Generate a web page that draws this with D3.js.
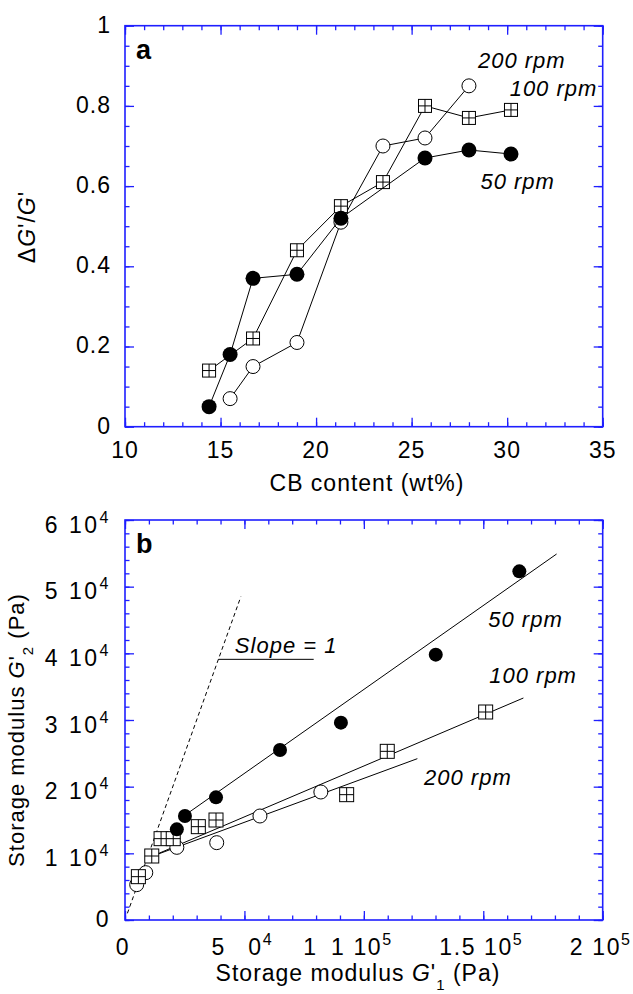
<!DOCTYPE html>
<html lang="en">
<head>
<meta charset="utf-8">
<title>CB content / storage modulus</title>
<script src="https://cdn.jsdelivr.net/npm/d3@7"></script>
<style>
  body { margin: 0; background: #fff; }
  svg { font-family: "Liberation Sans", Arial, sans-serif; }
</style>
</head>
<body>
<div id="chart"></div>
<script>
// ---- panel a : CB content (wt%) vs dG'/G'
var cb50  = [14.4, 15.5, 16.7, 19.0, 21.3, 25.7, 28.0, 30.2];
var dg50  = [0.05, 0.18, 0.37, 0.38, 0.52, 0.67, 0.69, 0.68];
var cb100 = [14.4, 16.7, 19.0, 21.3, 23.5, 25.7, 28.0, 30.2];
var dg100 = [0.14, 0.22, 0.44, 0.55, 0.61, 0.80, 0.77, 0.79];
var cb200 = [15.5, 16.7, 19.0, 21.3, 23.5, 25.7, 28.0];
var dg200 = [0.07, 0.15, 0.21, 0.51, 0.70, 0.72, 0.85];

// ---- panel b : G'1 vs G'2 (Pa)
var g1_50  = [21700, 25100, 38100, 64900, 90400, 130100, 165100];
var g2_50  = [13600, 15600, 18400, 25500, 29600, 39800, 52300];
var g1_100 = [5600, 11200, 15100, 20200, 30700, 38100, 92800, 109800, 151000];
var g2_100 = [6500, 9600, 12200, 12200, 14000, 15000, 18800, 25300, 31200];
var g1_200 = [4900, 8700, 21700, 38400, 56500, 82000];
var g2_200 = [5300, 7100, 10900, 11600, 15600, 19200];

// fitted lines (end points)
var fit50x  = [25000, 180700], fit50y  = [15700, 54900];
var fit100x = [10900, 166800], fit100y = [9500, 33300];
var fit200x = [10900, 122400], fit200y = [9500, 24200];
var slopeOne = [1000, 48500];

// tick values and labels
var xTicksA = [10, 15, 20, 25, 30, 35];
var yTicksA = [0, 0.2, 0.4, 0.6, 0.8, 1];
var yLabA   = ["0", "0.2", "0.4", "0.6", "0.8", "1"];
var xTicksB = [0, 50000, 100000, 150000, 200000];
var xLabB   = [["", "0", ""], ["", "5 \u20070", "4"], ["1", "1 10", "5"], ["", "1.5 10", "5"], ["", "2 10", "5"]];
var yTicksB = [0, 10000, 20000, 30000, 40000, 50000, 60000];
var yLabB   = [["0", ""], ["1 10", "4"], ["2 10", "4"], ["3 10", "4"], ["4 10", "4"], ["5 10", "4"], ["6 10", "4"]];

var blue = "#1f1fff";
var W = 633, H = 994;
var svg = d3.select("#chart").append("svg").attr("width", W).attr("height", H);

var xa = d3.scaleLinear().domain([10, 35]).range([125, 602.7]);
var ya = d3.scaleLinear().domain([0, 1]).range([426.7, 25.7]);
var xb = d3.scaleLinear().domain([0, 200000]).range([125, 602.7]);
var yb = d3.scaleLinear().domain([0, 60000]).range([920, 520]);

function frame(x, y, xMaj, xMin, yMaj, yMin) {
  var g = svg.append("g");
  var r = x.range(), h = y.range();
  var sides = [
    [d3.axisBottom, x, h[0], xMaj, xMin, "y"],
    [d3.axisTop, x, h[1], xMaj, xMin, "y"],
    [d3.axisLeft, y, r[0], yMaj, yMin, "x"],
    [d3.axisRight, y, r[1], yMaj, yMin, "x"]
  ];
  sides.forEach(function(s) {
    [[s[4], -4.5], [s[3], -9]].forEach(function(t) {
      var ax = s[0](s[1]).tickValues(t[0]).tickSize(t[1]).tickFormat("");
      var tr = s[5] == "y" ? "translate(0," + s[2] + ")" : "translate(" + s[2] + ",0)";
      var a = g.append("g").attr("transform", tr).call(ax);
      a.select(".domain").remove();
      a.selectAll("line").attr("stroke", blue).attr("stroke-width", 1.3);
    });
  });
  g.append("rect")
    .attr("x", r[0]).attr("y", h[1])
    .attr("width", r[1] - r[0]).attr("height", h[0] - h[1])
    .attr("fill", "none").attr("stroke", blue).attr("stroke-width", 1.6);
}

function range(a, b, st) { return d3.range(0, Math.round((b - a) / st) + 1).map(function(i) { return a + i * st; }); }

frame(xa, ya, xTicksA, range(10, 35, 1), yTicksA, range(0, 1, 0.05));
frame(xb, yb, xTicksB, range(0, 200000, 10000), yTicksB, range(0, 60000, 2000));

// ---- markers
function marker(g, type, cx, cy, s) {
  if (type == "fill") {
    g.append("circle").attr("cx", cx).attr("cy", cy).attr("r", s).attr("fill", "#000");
  } else if (type == "open") {
    g.append("circle").attr("cx", cx).attr("cy", cy).attr("r", s)
      .attr("fill", "#fff").attr("stroke", "#000").attr("stroke-width", 1);
  } else {
    g.append("rect").attr("x", cx - s).attr("y", cy - s).attr("width", 2 * s).attr("height", 2 * s)
      .attr("fill", "#fff").attr("stroke", "#000").attr("stroke-width", 1);
    g.append("path").attr("d", "M" + cx + "," + (cy - s) + "V" + (cy + s) + "M" + (cx - s) + "," + cy + "H" + (cx + s))
      .attr("stroke", "#000").attr("stroke-width", 1);
  }
}

function series(x, y, xs, ys, type, s, joined) {
  var g = svg.append("g");
  var pts = xs.map(function(v, i) { return [x(v), y(ys[i])]; });
  if (joined) {
    g.append("path").attr("d", d3.line()(pts)).attr("fill", "none").attr("stroke", "#000").attr("stroke-width", 1);
  }
  pts.forEach(function(p) { marker(g, type, p[0], p[1], s); });
}

function seg(x, y, xs, ys, dash) {
  svg.append("path")
    .attr("d", d3.line()(xs.map(function(v, i) { return [x(v), y(ys[i])]; })))
    .attr("stroke", "#000").attr("stroke-width", 1).attr("fill", "none")
    .attr("stroke-dasharray", dash ? "4,3" : null);
}

// panel a
series(xa, ya, cb200, dg200, "open", 7, true);
series(xa, ya, cb100, dg100, "sq", 6.5, true);
series(xa, ya, cb50, dg50, "fill", 7.5, true);

// panel b lines
seg(xb, yb, slopeOne, slopeOne, true);
seg(xb, yb, [39100, 79000], [39100, 39100], false);
seg(xb, yb, fit50x, fit50y, false);
seg(xb, yb, fit100x, fit100y, false);
seg(xb, yb, fit200x, fit200y, false);
series(xb, yb, g1_200, g2_200, "open", 7, false);
series(xb, yb, g1_100, g2_100, "sq", 7, false);
series(xb, yb, g1_50, g2_50, "fill", 7, false);

// ---- text
var txt = svg.append("g").attr("fill", "#000").style("letter-spacing", "1px");

function label(x, y, s, italic) {
  txt.append("text").attr("x", x).attr("y", y).attr("font-size", 22)
    .attr("font-style", italic ? "italic" : null).text(s);
}

// panel a tick labels
xTicksA.forEach(function(v) {
  txt.append("text").attr("x", xa(v)).attr("y", 458).attr("text-anchor", "middle").attr("font-size", 23).text(v);
});
yTicksA.forEach(function(v, i) {
  txt.append("text").attr("x", 111).attr("y", ya(v)).attr("dy", "0.3em")
    .attr("text-anchor", "end").attr("font-size", 23).text(yLabA[i]);
});

// panel b tick labels (with exponent)
function expLabel(t, base, sup) {
  t.append("tspan").text(base);
  if (sup) t.append("tspan").attr("dy", -10).attr("font-size", 16).text(sup);
}
xTicksB.forEach(function(v, i) {
  var l = xLabB[i];
  var t = txt.append("text").attr("x", xb(v) - 2).attr("y", 955).attr("text-anchor", "middle")
    .attr("font-size", 23).style("letter-spacing", "1.6px");
  expLabel(t, l[1], l[2]);
  if (l[0]) {
    var bb = t.node().getBBox();
    txt.append("text").attr("x", bb.x - 14).attr("y", 955).attr("text-anchor", "end").attr("font-size", 23).text(l[0]);
  }
});
yTicksB.forEach(function(v, i) {
  var t = txt.append("text").attr("x", 111).attr("y", yb(v)).attr("dy", v ? "0.55em" : "0.3em")
    .attr("text-anchor", "end").attr("font-size", 23).style("letter-spacing", "2.5px");
  expLabel(t, yLabB[i][0], yLabB[i][1]);
});

// axis titles
txt.append("text").attr("x", 367).attr("y", 491).attr("text-anchor", "middle").attr("font-size", 23)
  .text("CB content (wt%)");

var ta = txt.append("text").attr("transform", "translate(35," + 227 + ") rotate(-90)")
  .attr("text-anchor", "middle").attr("font-size", 23);
ta.append("tspan").text("\u0394");
ta.append("tspan").attr("font-style", "italic").text("G");
ta.append("tspan").text("'/");
ta.append("tspan").attr("font-style", "italic").text("G");
ta.append("tspan").text("'");

function modTitle(t, sub) {
  t.append("tspan").text("Storage modulus ");
  t.append("tspan").attr("font-style", "italic").text("G");
  t.append("tspan").text("'");
  t.append("tspan").attr("dy", 9).attr("font-size", 15).text(sub);
  t.append("tspan").attr("dy", -9).text(" (Pa)");
}
modTitle(txt.append("text").attr("x", 358).attr("y", 981).attr("text-anchor", "middle").attr("font-size", 23), "1");
modTitle(txt.append("text").attr("transform", "translate(24,730) rotate(-90)").attr("text-anchor", "middle").attr("font-size", 22), "2");

// panel letters
txt.append("text").attr("x", 136).attr("y", 59).attr("font-size", 27).attr("font-weight", "bold").text("a");
txt.append("text").attr("x", 136).attr("y", 553).attr("font-size", 27).attr("font-weight", "bold").text("b");

// series labels
label(xa(28.47), ya(0.895), "200 rpm", true);
label(xa(30.13), ya(0.825), "100 rpm", true);
label(xa(28.6), ya(0.593), "50 rpm", true);
label(xb(152100), yb(44000), "50 rpm", true);
label(xb(152500), yb(35500), "100 rpm", true);
label(xb(125200), yb(20250), "200 rpm", true);
label(xb(46000), yb(40100), "Slope = 1", true);
</script>
</body>
</html>
